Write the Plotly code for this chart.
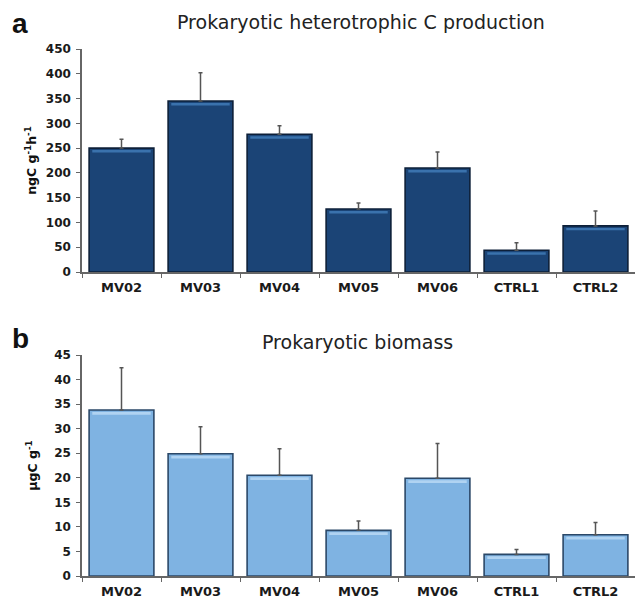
import plotly.graph_objects as go

categories = ["MV02", "MV03", "MV04", "MV05", "MV06", "CTRL1", "CTRL2"]
production = [250, 345, 278, 127, 210, 44, 93]
production_err = [18, 57, 17, 12, 32, 15, 30]
biomass = [33.8, 24.9, 20.5, 9.3, 19.9, 4.4, 8.4]
biomass_err = [8.6, 5.5, 5.4, 1.9, 7.1, 1.0, 2.5]

# page body has an 8px margin, so the figure is drawn from (8, 8)
OFF = 8
W, H = 643 - OFF, 603 - OFF
FONT = "DejaVu Sans"

def px(x):
    return (x - OFF) / W

def py(y):
    return 1 - (y - OFF) / H

fig = go.Figure()

def add_panel(vals, errs, xa, ya, fill, edge, hl, hl_off, hl_h):
    fig.add_trace(go.Bar(
        x=categories, y=vals, xaxis=xa, yaxis=ya, width=0.82,
        marker=dict(color=fill, line=dict(color=edge, width=1.6)),
        error_y=dict(type="data", symmetric=False, array=errs,
                     arrayminus=[0] * len(errs), color="#555555",
                     thickness=1.5, width=2),
        showlegend=False, hoverinfo="skip"))
    fig.add_trace(go.Bar(
        x=categories, y=[hl_h] * len(vals), base=[v - hl_off for v in vals],
        xaxis=xa, yaxis=ya, width=0.74,
        marker=dict(color=hl, line=dict(width=0)),
        showlegend=False, hoverinfo="skip"))

add_panel(production, production_err, "x", "y",
          "#1b4476", "#0d1f38", "#3a72ad", 9, 5)
add_panel(biomass, biomass_err, "x2", "y2",
          "#7fb3e2", "#2b4868", "#b0d3f2", 0.95, 0.55)

xdom = [px(82), px(635)]
top_dom = [py(272), py(49)]
bot_dom = [py(576), py(355)]

axis_line = "#666666"
tick_font = dict(family=FONT, size=12, color="#1a1a1a")

xcommon = dict(showline=True, linecolor=axis_line, linewidth=1.5,
               ticks="outside", tickson="boundaries", ticklen=4,
               tickcolor=axis_line, tickfont=dict(family=FONT, size=13, color="#1a1a1a"),
               showgrid=False, ticklabelstandoff=3, fixedrange=True,
               automargin=False)
ycommon = dict(showline=True, linecolor=axis_line, linewidth=1.5,
               ticks="outside", ticklen=4, tickcolor=axis_line,
               tickfont=tick_font, showgrid=False, zeroline=False,
               ticklabelstandoff=3, automargin=False)

fig.update_layout(
    width=W, height=H,
    margin=dict(l=0, r=0, t=0, b=0),
    paper_bgcolor="white", plot_bgcolor="white",
    barmode="overlay",
    xaxis=dict(domain=xdom, anchor="y", **xcommon),
    yaxis=dict(domain=top_dom, anchor="x", range=[0, 450], dtick=50,
               title=dict(text="<b>ngC g<sup>-1</sup>h<sup>-1</sup></b>",
                          font=dict(family=FONT, size=12.5, color="#111111"),
                          standoff=6),
               **ycommon),
    xaxis2=dict(domain=xdom, anchor="y2", **xcommon),
    yaxis2=dict(domain=bot_dom, anchor="x2", range=[0, 45], dtick=5,
                title=dict(text="<b>µgC g<sup>-1</sup></b>",
                           font=dict(family=FONT, size=12.5, color="#111111"),
                           standoff=14),
                **ycommon),
    font=dict(family=FONT),
)

fig.update_xaxes(tickprefix="<b>", ticksuffix="</b>")
fig.update_yaxes(tickprefix="<b>", ticksuffix="</b>")

annots = [
    dict(text="<b>a</b>", x=px(10), y=py(23), font=dict(size=28, color="#111111", family="Liberation Sans"), xanchor="left"),
    dict(text="<b>b</b>", x=px(10), y=py(338), font=dict(size=28, color="#111111", family="Liberation Sans"), xanchor="left"),
    dict(text="Prokaryotic heterotrophic C production", x=px(361), y=py(22),
         font=dict(size=19, color="#222222", family=FONT), xanchor="center"),
    dict(text="Prokaryotic biomass", x=px(357), y=py(342),
         font=dict(size=19, color="#222222", family=FONT), xanchor="center"),
]
for a in annots:
    fig.add_annotation(xref="paper", yref="paper", showarrow=False,
                       yanchor="middle", **a)

fig.write_html("out.html")
